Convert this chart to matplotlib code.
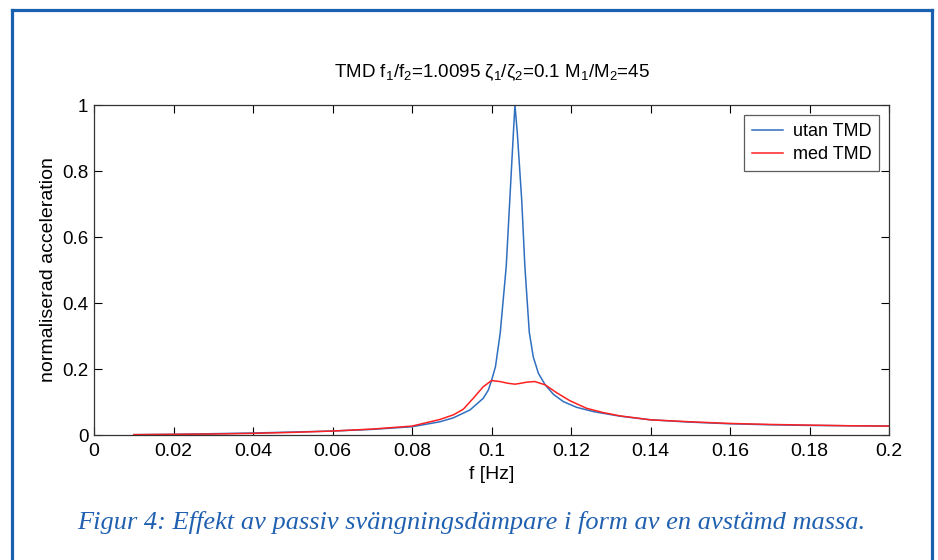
import matplotlib
matplotlib.use("Agg")
from matplotlib import pyplot as plt
from matplotlib.lines import Line2D

# values
x_utan = [0.010, 0.020, 0.030, 0.040, 0.050, 0.060, 0.070, 0.080, 0.087, 0.0904,
          0.0946, 0.0979, 0.0992, 0.1000, 0.1010, 0.1022, 0.1037, 0.1046, 0.1055, 0.1059,
          0.1065, 0.1076, 0.1084, 0.1095, 0.1105, 0.1118, 0.1135, 0.1156, 0.1181, 0.1214,
          0.1256, 0.1323, 0.140, 0.150, 0.160, 0.170, 0.180, 0.190, 0.200]
y_utan = [0.001, 0.002, 0.004, 0.006, 0.009, 0.012, 0.017, 0.025, 0.040, 0.052,
          0.076, 0.111, 0.136, 0.165, 0.207, 0.310, 0.510, 0.712, 0.914, 1.000,
          0.914, 0.712, 0.510, 0.312, 0.237, 0.187, 0.152, 0.123, 0.101, 0.084,
          0.071, 0.057, 0.046, 0.039, 0.034, 0.031, 0.029, 0.028, 0.027]

x_med = [0.010, 0.020, 0.030, 0.040, 0.050, 0.060, 0.070, 0.080, 0.087, 0.0904,
         0.0929, 0.0954, 0.0979, 0.1000, 0.1021, 0.1040, 0.1059, 0.1075, 0.1088, 0.1109,
         0.1135, 0.1164, 0.1197, 0.1239, 0.1281, 0.1323, 0.140, 0.150, 0.160, 0.170,
         0.180, 0.190, 0.200]
y_med = [0.001, 0.002, 0.003, 0.005, 0.008, 0.012, 0.018, 0.027, 0.047, 0.061,
         0.078, 0.111, 0.146, 0.165, 0.162, 0.157, 0.154, 0.157, 0.160, 0.162,
         0.152, 0.128, 0.104, 0.081, 0.068, 0.058, 0.046, 0.040, 0.035, 0.032,
         0.030, 0.028, 0.027]

xticks = [0, 0.02, 0.04, 0.06, 0.08, 0.1, 0.12, 0.14, 0.16, 0.18, 0.2]
xtick_labels = ["0", "0.02", "0.04", "0.06", "0.08", "0.1", "0.12", "0.14", "0.16", "0.18", "0.2"]
yticks = [0, 0.2, 0.4, 0.6, 0.8, 1]
ytick_labels = ["0", "0.2", "0.4", "0.6", "0.8", "1"]

plt.rcParams["font.family"] = ["Liberation Sans", "DejaVu Sans"]
plt.rcParams["mathtext.fontset"] = "custom"
plt.rcParams["mathtext.rm"] = "Liberation Sans"
plt.rcParams["mathtext.it"] = "Liberation Sans"

W, H = 938, 560
fig = plt.figure(figsize=(W / 100, H / 100), dpi=100)
ax = fig.add_axes([94 / W, 1 - 435 / H, 795 / W, 330 / H])

ax.plot(x_utan, y_utan, color="#2f6fc0", lw=1.1, label="utan TMD")
ax.plot(x_med, y_med, color="#ff2020", lw=1.1, label="med TMD")

ax.set_xlim(0, 0.2)
ax.set_ylim(0, 1)
ax.set_xticks(xticks)
ax.set_xticklabels(xtick_labels)
ax.set_yticks(yticks)
ax.set_yticklabels(ytick_labels)
ax.tick_params(direction="in", top=True, right=True, length=6, width=0.8,
               labelsize=14, colors="black", pad=6)
ax.tick_params(axis="y", labelsize=13.5, pad=4)
for s in ax.spines.values():
    s.set_color("#333333")
    s.set_linewidth(0.9)

ax.set_xlabel("f [Hz]", fontsize=14, labelpad=4)
ax.set_ylabel("normaliserad acceleration", fontsize=14)
ax.yaxis.set_label_coords(-0.047, 0.5)
ax.set_title(r"TMD f$_1$/f$_2$=1.0095 $\zeta_1$/$\zeta_2$=0.1 M$_1$/M$_2$=45",
             fontsize=13.5, pad=20)

leg = ax.legend(loc="upper right", bbox_to_anchor=(0.988, 0.97), fontsize=13,
                frameon=True, fancybox=False, edgecolor="#333333",
                handlelength=1.7, borderpad=0.45, labelspacing=0.35,
                handletextpad=0.55, borderaxespad=0)
leg.get_frame().set_linewidth(0.9)

# caption below the chart
fig.text(471 / W, 1 - 522 / H,
         "Figur 4: Effekt av passiv svängningsdämpare i form av en avstämd massa.",
         ha="center", va="center", fontsize=19, style="italic",
         family=["Liberation Serif", "DejaVu Serif"], color="#2060b0")

# blue frame around the figure
frame_col = "#1a5fb0"
fig.add_artist(Line2D([11.5 / W, 11.5 / W], [0, 1 - 9.5 / H], transform=fig.transFigure,
                      color=frame_col, lw=2.3))
fig.add_artist(Line2D([931.5 / W, 931.5 / W], [0, 1 - 9.5 / H], transform=fig.transFigure,
                      color=frame_col, lw=2.3))
fig.add_artist(Line2D([11.5 / W, 931.5 / W], [1 - 9.5 / H, 1 - 9.5 / H],
                      transform=fig.transFigure, color=frame_col, lw=2.3,
                      solid_capstyle="projecting"))

fig.savefig("out.png", dpi=100)
